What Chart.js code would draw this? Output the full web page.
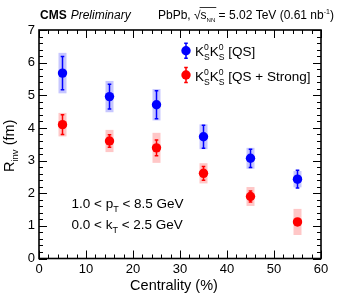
<!DOCTYPE html>
<html lang="en">
<head>
  <meta charset="UTF-8" />
  <title>CMS K0S K0S Rinv vs centrality</title>
  <script src="https://cdn.jsdelivr.net/npm/chart.js"></script>
  <style>
    body { margin: 0; background: #fff; }
    canvas { display: block; }
  </style>
</head>
<body>
  <canvas id="chart" width="357" height="295"></canvas>

  <script>
    // data
    const centrality = [5, 15, 25, 35, 45, 55];
    const rQS = [5.68, 4.96, 4.71, 3.73, 3.07, 2.43];
    const rQSStat = [0.51, 0.38, 0.43, 0.35, 0.28, 0.27];
    const rQSSys = [0.62, 0.48, 0.48, 0.38, 0.32, 0.25];
    const rStrong = [4.10, 3.60, 3.39, 2.61, 1.90, 1.12];
    const rStrongStat = [0.30, 0.19, 0.24, 0.21, 0.17, 0.07];
    const rStrongSys = [0.36, 0.34, 0.46, 0.31, 0.29, 0.40];
    const seriesNames = ["[QS]", "[QS + Strong]"];
    const xTicks = [0, 10, 20, 30, 40, 50, 60];
    const yTicks = [0, 1, 2, 3, 4, 5, 6, 7];

    const FONT = "'Liberation Sans', Arial, sans-serif";
    const BLUE = "#0000ff";
    const RED = "#ff0000";

    const series = [
      { y: rQS, stat: rQSStat, sys: rQSSys, color: BLUE, box: "rgba(0,0,255,0.22)" },
      { y: rStrong, stat: rStrongStat, sys: rStrongSys, color: RED, box: "rgba(255,0,0,0.22)" }
    ];

    // draw text pieces one after another (for sub/superscripts)
    function drawParts(ctx, parts, x, y) {
      let cx = x;
      parts.forEach(p => {
        ctx.font = `${p.style || ""} ${p.size}px ${FONT}`;
        ctx.fillText(p.t, cx, y + (p.dy || 0));
        if (!p.stack) cx += ctx.measureText(p.t).width + (p.gap || 0);
      });
      return cx;
    }

    function kk(size) {
      const s = size * 0.64;
      return [
        { t: "K", size }, { t: "0", size: s, dy: -size * 0.42, stack: true }, { t: "S", size: s, dy: size * 0.28 },
        { t: "K", size }, { t: "0", size: s, dy: -size * 0.42, stack: true }, { t: "S", size: s, dy: size * 0.28 }
      ];
    }

    const errorPlugin = {
      id: "errors",
      beforeDatasetsDraw(chart) {
        const ctx = chart.ctx;
        const xs = chart.scales.x, ys = chart.scales.y;
        ctx.save();
        // systematic boxes
        series.forEach(s => {
          ctx.fillStyle = s.box;
          centrality.forEach((c, i) => {
            const px = xs.getPixelForValue(c);
            const top = ys.getPixelForValue(s.y[i] + s.sys[i]);
            const bot = ys.getPixelForValue(s.y[i] - s.sys[i]);
            ctx.fillRect(px - 4, top, 8, bot - top);
          });
        });
        // statistical bars
        series.forEach(s => {
          ctx.strokeStyle = s.color;
          ctx.lineWidth = 1.5;
          centrality.forEach((c, i) => {
            const px = xs.getPixelForValue(c);
            const top = ys.getPixelForValue(s.y[i] + s.stat[i]);
            const bot = ys.getPixelForValue(s.y[i] - s.stat[i]);
            ctx.beginPath();
            ctx.moveTo(px, top); ctx.lineTo(px, bot);
            ctx.moveTo(px - 1.8, top); ctx.lineTo(px + 1.8, top);
            ctx.moveTo(px - 1.8, bot); ctx.lineTo(px + 1.8, bot);
            ctx.stroke();
          });
        });
        ctx.restore();
      },
      afterDraw(chart) {
        const ctx = chart.ctx;
        const a = chart.chartArea;
        const xs = chart.scales.x, ys = chart.scales.y;
        ctx.save();
        ctx.strokeStyle = "#000";
        ctx.lineWidth = 1;
        ctx.beginPath();
        // x ticks, inside, bottom and top
        for (let v = 0; v <= 60; v += 2) {
          const px = Math.round(xs.getPixelForValue(v)) + 0.5;
          const len = v % 10 === 0 ? 8 : 4;
          ctx.moveTo(px, a.bottom); ctx.lineTo(px, a.bottom - len);
          ctx.moveTo(px, a.top); ctx.lineTo(px, a.top + len);
        }
        // y ticks, inside, left and right
        for (let k = 0; k <= 35; k++) {
          const py = Math.round(ys.getPixelForValue(k * 0.2)) + 0.5;
          const len = k % 5 === 0 ? 8 : 4;
          ctx.moveTo(a.left, py); ctx.lineTo(a.left + len, py);
          ctx.moveTo(a.right, py); ctx.lineTo(a.right - len, py);
        }
        ctx.stroke();
        ctx.lineWidth = 1.6;
        ctx.strokeRect(a.left, a.top, a.right - a.left, a.bottom - a.top);

        ctx.fillStyle = "#000";
        ctx.textBaseline = "alphabetic";
        ctx.textAlign = "left";

        // header
        drawParts(ctx, [{ t: "CMS", size: 12, style: "bold", gap: 4 }, { t: "Preliminary", size: 12, style: "italic" }], 40, 19);
        let hx = drawParts(ctx, [{ t: "PbPb, ", size: 12 }, { t: "\u221A", size: 12 }], 158, 19);
        const sx0 = hx;
        hx = drawParts(ctx, [{ t: "s", size: 12 }, { t: "NN", size: 6, dy: 3 }], hx, 19);
        ctx.beginPath(); ctx.lineWidth = 0.8;
        ctx.moveTo(sx0 - 1, 7.5); ctx.lineTo(hx + 1, 7.5); ctx.stroke();
        drawParts(ctx, [
          { t: " = 5.02 TeV (0.61 nb", size: 12 }, { t: "-1", size: 7, dy: -5 }, { t: ")", size: 12 }
        ], hx, 19);

        // legend
        [[50.7, 56, 0], [75, 81, 1]].forEach(([my, by, i]) => {
          const col = series[i].color;
          ctx.strokeStyle = col; ctx.fillStyle = col; ctx.lineWidth = 1.5;
          ctx.beginPath();
          ctx.moveTo(186, my - 7.5); ctx.lineTo(186, my + 7.5);
          ctx.moveTo(184.2, my - 7.5); ctx.lineTo(187.8, my - 7.5);
          ctx.moveTo(184.2, my + 7.5); ctx.lineTo(187.8, my + 7.5);
          ctx.stroke();
          ctx.beginPath(); ctx.arc(186, my, 4.7, 0, Math.PI * 2); ctx.fill();
          ctx.fillStyle = "#000";
          drawParts(ctx, kk(13.5).concat([{ t: " " + seriesNames[i], size: 13.5 }]), 195, by);
        });

        // kinematic cuts
        drawParts(ctx, [
          { t: "1.0 < p", size: 13.5 }, { t: "T", size: 9, dy: 4 }, { t: " < 8.5 GeV", size: 13.5 }
        ], 71.5, 207.5);
        drawParts(ctx, [
          { t: "0.0 < k", size: 13.5 }, { t: "T", size: 9, dy: 4 }, { t: " < 2.5 GeV", size: 13.5 }
        ], 71.5, 228.5);

        // axis titles
        ctx.font = `14.5px ${FONT}`;
        ctx.textAlign = "center";
        ctx.fillText("Centrality (%)", 174, 289.5);

        ctx.translate(14, 172);
        ctx.rotate(-Math.PI / 2);
        ctx.textAlign = "left";
        drawParts(ctx, [{ t: "R", size: 14.5 }, { t: "inv", size: 9.5, dy: 4 }, { t: " (fm)", size: 14.5 }], 0, 0);
        ctx.restore();
      }
    };

    const ctx = document.getElementById("chart").getContext("2d");
    new Chart(ctx, {
      type: "scatter",
      data: {
        datasets: series.map((s, k) => ({
          label: seriesNames[k],
          data: centrality.map((c, i) => ({ x: c, y: s.y[i] })),
          backgroundColor: s.color,
          borderColor: s.color,
          borderWidth: 0,
          pointRadius: 4.7,
          pointHoverRadius: 4.7,
          showLine: false
        }))
      },
      options: {
        responsive: false,
        animation: false,
        events: [],
        layout: { padding: { left: 0, right: 36, top: 30, bottom: 0 } },
        plugins: { legend: { display: false }, tooltip: { enabled: false } },
        scales: {
          x: {
            type: "linear", min: 0, max: 60,
            grid: { display: false, drawTicks: false },
            border: { display: false },
            afterBuildTicks: s => { s.ticks = xTicks.map(v => ({ value: v })); },
            ticks: { color: "#000", font: { size: 13, family: FONT }, padding: 3, maxRotation: 0, autoSkip: false },
            afterFit: s => { s.height = 36.5; }
          },
          y: {
            type: "linear", min: 0, max: 7,
            grid: { display: false, drawTicks: false },
            border: { display: false },
            afterBuildTicks: s => { s.ticks = yTicks.map(v => ({ value: v })); },
            ticks: { color: "#000", font: { size: 13, family: FONT }, padding: 4, autoSkip: false },
            afterFit: s => { s.width = 39; }
          }
        }
      },
      plugins: [errorPlugin]
    });
  </script>
</body>
</html>
